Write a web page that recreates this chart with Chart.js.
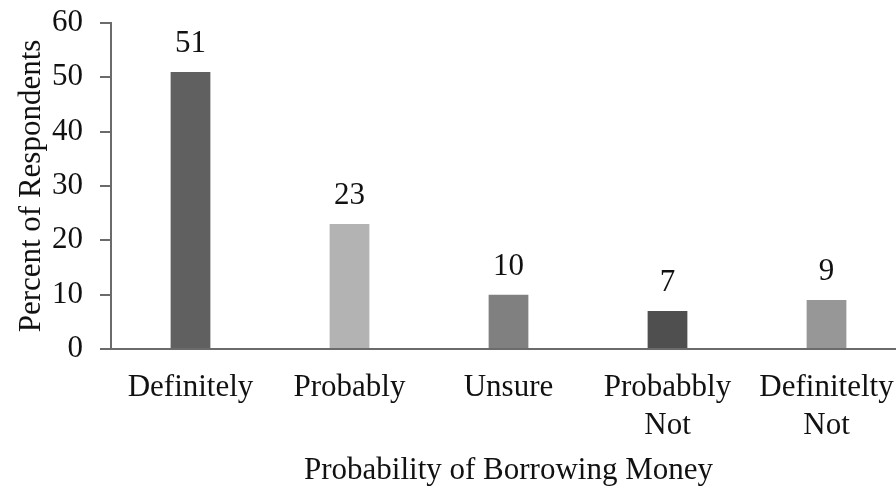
<!DOCTYPE html>
<html>
<head>
<meta charset="utf-8">
<script src="https://cdn.jsdelivr.net/npm/chart.js@4/dist/chart.umd.min.js"></script>
<style>
  html, body { margin: 0; padding: 0; background: #fff; overflow: hidden; }
  #wrap { width: 906px; height: 486px; }
</style>
</head>
<body>
<div id="wrap"><canvas id="chart" width="906" height="486"></canvas></div>
<script>
// survey answers
const categories = [['Definitely'], ['Probably'], ['Unsure'], ['Probabbly', 'Not'], ['Definitelty', 'Not']];
const percents = [51, 23, 10, 7, 9];
const barColors = ['#606060', '#b3b3b3', '#808080', '#4f4f4f', '#979797'];
const yTicks = [0, 10, 20, 30, 40, 50, 60];

const serif = "'Liberation Serif', 'Times New Roman', serif";
const axisColor = '#6b6b6b';
const fontSize = 31;

// draw the value above each bar
const valueLabels = {
  id: 'valueLabels',
  afterDatasetsDraw(chart) {
    const ctx = chart.ctx;
    const meta = chart.getDatasetMeta(0);
    ctx.save();
    ctx.font = fontSize + 'px ' + serif;
    ctx.fillStyle = '#111';
    ctx.textAlign = 'center';
    ctx.textBaseline = 'middle';
    meta.data.forEach((bar, i) => {
      ctx.fillText(String(percents[i]), bar.x, bar.y - 28);
    });
    ctx.restore();
  }
};

new Chart(document.getElementById('chart').getContext('2d'), {
  type: 'bar',
  data: {
    labels: categories,
    datasets: [{
      data: percents,
      backgroundColor: barColors,
      categoryPercentage: 1,
      barPercentage: 0.25
    }]
  },
  options: {
    responsive: false,
    animation: false,
    layout: { padding: { top: 23, left: 0, right: 0, bottom: 0 } },
    plugins: {
      legend: { display: false },
      tooltip: { enabled: false }
    },
    scales: {
      x: {
        grid: { display: false },
        border: { display: true, color: axisColor, width: 2 },
        afterFit(scale) { scale.height = 137; },
        ticks: {
          color: '#111',
          font: { family: serif, size: fontSize, lineHeight: 1.22 },
          padding: 12,
          maxRotation: 0,
          autoSkip: false
        },
        title: {
          display: true,
          text: 'Probability of Borrowing Money',
          color: '#111',
          font: { family: serif, size: fontSize, lineHeight: 1.0 },
          padding: 0
        }
      },
      y: {
        min: 0,
        max: 60,
        afterBuildTicks(axis) { axis.ticks = yTicks.map(v => ({ value: v })); },
        afterFit(scale) {
          scale.width = 111;
          scale.paddingTop = 0;
          scale.paddingBottom = 0;
        },
        grid: { display: true, drawOnChartArea: false, drawTicks: true, tickLength: 11, color: axisColor, lineWidth: 2 },
        border: { display: true, color: axisColor, width: 2 },
        ticks: {
          color: '#111',
          font: { family: serif, size: fontSize, lineHeight: 1.0 },
          padding: 17
        },
        title: {
          display: true,
          text: 'Percent of Respondents',
          color: '#111',
          font: { family: serif, size: fontSize, lineHeight: 1.0 },
          padding: { top: 16, bottom: 0 }
        }
      }
    }
  },
  plugins: [valueLabels]
});
</script>
</body>
</html>
